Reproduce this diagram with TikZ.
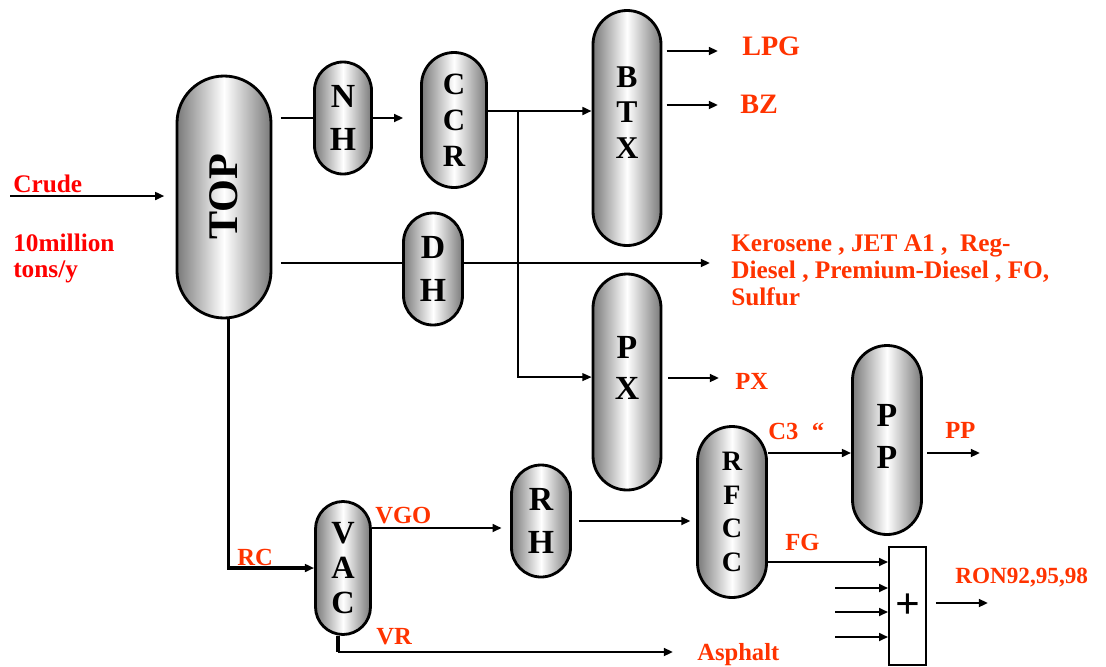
\documentclass[tikz,border=0pt]{standalone}
\usepackage{fontspec}
\setmainfont{Liberation Serif}
\usetikzlibrary{arrows.meta, calc}
\definecolor{CrudeRed}{HTML}{FF0000}
\definecolor{ProdRed}{HTML}{FF3300}
\definecolor{ShellGray}{HTML}{7A7A7A}
\newcommand{\vfnt}[2]{\fontsize{#1}{#2}\selectfont\bfseries}

\begin{document}
\begin{tikzpicture}[
  x=0.025cm, y=-0.025cm,
  vessel/.style 2 args={draw, line width=2pt, left color=ShellGray, right color=ShellGray, middle color=white, minimum width=#1*0.025cm, minimum height=#2*0.025cm, rounded corners=#1*0.01249cm, inner sep=0pt, align=center},
  prod/.style={text=ProdRed, font=\vfnt{17.5}{19.2}, inner sep=0pt, anchor=base west},
  flow/.style={line width=1.7pt},
  arr/.style={-{Triangle[length=6.5pt,width=5.5pt]}, line width=1.7pt},
]
\useasboundingbox (0,0) rectangle (1106,666);

% units
\node[vessel={94}{242}, font=\vfnt{30}{30}] (TOP) at (224,197) {\rotatebox{90}{TOP}};
\node[vessel={57}{112}, font=\vfnt{24}{30}] (NH) at (343,118) {N\\H};
\node[vessel={65}{135}, font=\vfnt{22}{25.5}] (CCR) at (454,120) {C\\C\\R};
\node[vessel={68}{235}, font=\vfnt{22.5}{25}, text depth=22pt] (BTX) at (627,128) {B\\T\\X};
\node[vessel={59}{112}, font=\vfnt{24}{30}] (DH) at (433,269) {D\\H};
\node[vessel={68}{216}, font=\vfnt{24}{29}, text depth=20.5pt] (PX) at (627,382) {P\\X};
\node[vessel={59}{112}, font=\vfnt{24}{30.5}] (RH) at (541,521) {R\\H};
\node[vessel={55}{133}, font=\vfnt{23}{25}] (VAC) at (343,568) {V\\A\\C};
\node[vessel={69}{171}, font=\vfnt{20}{24}] (RFCC) at (732,512) {R\\F\\C\\C};
\node[vessel={69}{189}, font=\vfnt{24}{30.5}, text depth=5pt] (PP) at (887,440) {P\\P};
\node[draw, line width=1.2pt, minimum width=37*0.025cm, minimum height=118*0.025cm, inner sep=0pt, font=\vfnt{31}{31}] (mix) at (907.5,606) {+};

% labels
\node[prod, text=CrudeRed, font=\vfnt{18}{18.5}] (crude) at (13,192) {Crude};
\node[prod, text=CrudeRed, anchor=north west, align=left, font=\vfnt{18}{18.5}] (capa) at (13,234) {10million\\tons/y};
\node[prod, font=\vfnt{20}{22}] (lpg) at (742,55.5) {LPG};
\node[prod, font=\vfnt{20}{22}] (bz) at (740,113.5) {BZ};
\node[prod, anchor=north west, align=left, font=\vfnt{18}{19.2}] (fuel) at (731,234.5) {Kerosene , JET A1 ,~ Reg-\\Diesel , Premium-Diesel , FO,\\Sulfur};
\node[prod] (pxl) at (735,389.5) {PX};
\node[prod] (c3) at (768,439) {C3\hspace{0.55em}“};
\node[prod] (ppl) at (945,438) {PP};
\node[prod] (fg) at (785,550) {FG};
\node[prod, font=\vfnt{16.5}{18}] (ron) at (955,583) {RON92,95,98};
\node[prod] (asph) at (697,660) {Asphalt};
\node[prod] (vr) at (376,644) {VR};
\node[prod] (vgo) at (375,523) {VGO};
\node[prod] (rc) at (237,565) {RC};

% free ends
\coordinate (crudein) at (10,196);
\coordinate (split) at (518,111);
\coordinate (lpgend) at (718,51);
\coordinate (bzend) at (718,105);
\coordinate (dhend) at (710,263);
\coordinate (pxend) at (719,378);
\coordinate (c3in) at (853,453);
\coordinate (ppend) at (980,453);
\coordinate (asphend) at (673,652);
\coordinate (ronend) at (988,603);

% streams
\draw[arr, shorten >=8pt] (crudein) -- (TOP.west |- crudein);
\draw[flow, shorten <=6pt] (TOP.east |- NH.west) -- (NH.west);
\draw[arr, shorten >=12pt] (NH.east) -- (CCR.west |- NH.east);
\draw[arr] (CCR.east |- split) -- (BTX.west |- split);
\draw[arr, line width=1pt] (split) |- ([yshift=3.5pt]PX.west);
\draw[arr, shorten <=3pt] (BTX.east |- lpgend) -- (lpgend);
\draw[arr, shorten <=3pt] (BTX.east |- bzend) -- (bzend);
\draw[flow, shorten <=6pt] (TOP.east |- dhend) -- (DH.west |- dhend);
\draw[arr] (DH.east |- dhend) -- (dhend);
\draw[arr, shorten <=4pt] (PX.east |- pxend) -- (pxend);
\draw[arr, line width=2.2pt] ([xshift=3.5pt]TOP.south) |- (VAC.west);
\draw[arr, shorten >=6pt] (VAC.east |- 0,528) -- (RH.west |- 0,528);
\draw[arr, shorten <=5pt, shorten >=4pt] (RH.east) -- (RFCC.west |- RH.east);
\draw[line width=2.4pt] ([xshift=-3.5pt]VAC.south) -- ([xshift=-3.5pt]VAC.south |- asphend);
\draw[arr] ([xshift=-3.5pt]VAC.south |- asphend) -- (asphend);
\draw[arr] (RFCC.east |- c3in) -- (PP.west |- c3in);
\draw[arr, shorten <=3pt] (PP.east |- ppend) -- (ppend);
\draw[arr] (RFCC.east |- 0,562) -- (mix.west |- 0,562);
\foreach \yy [count=\i] in {588,612,637} {
  \coordinate (blend\i) at (835,\yy);
  \draw[arr] (blend\i) -- (mix.west |- blend\i);
}
\draw[arr, shorten <=6.4pt] (mix.east |- ronend) -- (ronend);

\end{tikzpicture}
\end{document}
